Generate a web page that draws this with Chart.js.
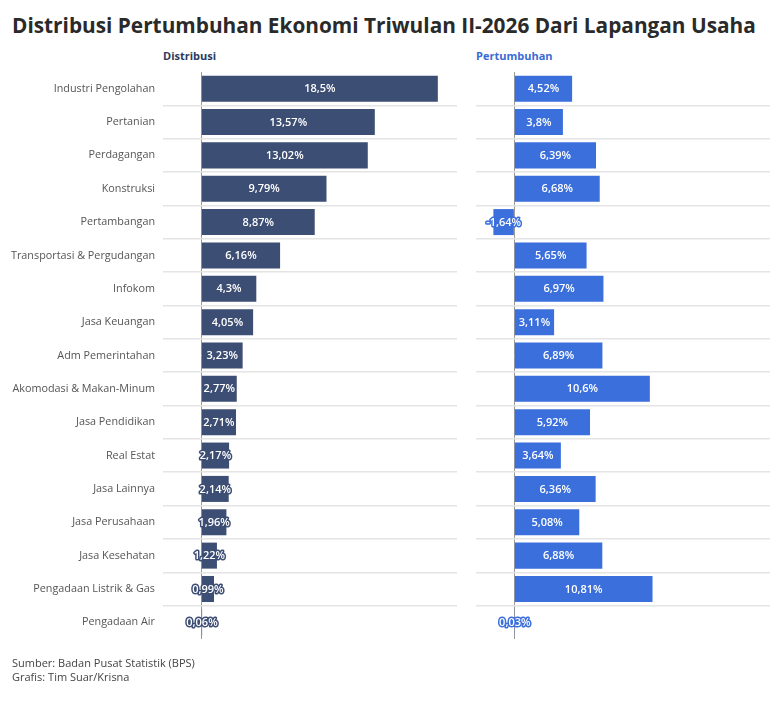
<!DOCTYPE html>
<html>
<head>
<meta charset="utf-8">
<script src="https://cdn.jsdelivr.net/npm/chart.js@4.4.1/dist/chart.umd.min.js"></script>
<style>
  html, body { margin:0; padding:0; background:#fff; }
  body { width:784px; height:711px; position:relative; overflow:hidden; font-family:"Open Sans", "Noto Sans", sans-serif; }
  #title { position:absolute; left:12px; top:11px; font-family:"Open Sans", sans-serif; font-weight:700; font-size:20.8px; color:#2a2a2a; white-space:nowrap; }
  .sub { position:absolute; top:48px; font-size:11px; font-weight:700; white-space:nowrap; }
  #subL { left:163px; color:#2c3a5e; }
  #subR { left:476px; color:#3a6ad4; }
  #foot { position:absolute; left:12px; top:656px; font-size:11px; line-height:14px; color:#444; }
  #cL { position:absolute; left:0; top:0; }
  #cR { position:absolute; left:460px; top:0; }
</style>
</head>
<body>
<div id="title">Distribusi Pertumbuhan Ekonomi Triwulan II-2026 Dari Lapangan Usaha</div>
<div class="sub" id="subL">Distribusi</div>
<div class="sub" id="subR">Pertumbuhan</div>
<canvas id="cL" width="460" height="711"></canvas>
<canvas id="cR" width="324" height="711"></canvas>
<div id="foot">Sumber: Badan Pusat Statistik (BPS)<br>Grafis: Tim Suar/Krisna</div>
<script>
const categories = ["Industri Pengolahan","Pertanian","Perdagangan","Konstruksi","Pertambangan","Transportasi & Pergudangan","Infokom","Jasa Keuangan","Adm Pemerintahan","Akomodasi & Makan-Minum","Jasa Pendidikan","Real Estat","Jasa Lainnya","Jasa Perusahaan","Jasa Kesehatan","Pengadaan Listrik & Gas","Pengadaan Air"];
const distribusi = [18.5,13.57,13.02,9.79,8.87,6.16,4.3,4.05,3.23,2.77,2.71,2.17,2.14,1.96,1.22,0.99,0.06];
const pertumbuhan = [4.52,3.8,6.39,6.68,-1.64,5.65,6.97,3.11,6.89,10.6,5.92,3.64,6.36,5.08,6.88,10.81,0.03];

const COLOR_L = '#3d4e74';
const COLOR_R = '#3b6fdc';

function fmt(v){ return String(v).replace('.', ',') + '%'; }

const valueLabels = {
  id:'valueLabels',
  afterDatasetsDraw(chart, args, opts){
    const ctx = chart.ctx;
    const meta = chart.getDatasetMeta(0);
    const ds = chart.data.datasets[0];
    ctx.save();
    ctx.font = '600 11px "Open Sans", sans-serif';
    ctx.textAlign = 'center';
    ctx.textBaseline = 'middle';
    ctx.lineJoin = 'round';
    meta.data.forEach((bar, i) => {
      const cx = (bar.x + bar.base) / 2;
      const t = fmt(ds.data[i]);
      ctx.lineWidth = 3;
      ctx.strokeStyle = opts.stroke;
      ctx.strokeText(t, cx, bar.y + 0.5);
      ctx.fillStyle = '#ffffff';
      ctx.fillText(t, cx, bar.y + 0.5);
    });
    ctx.restore();
  }
};

function makeChart(id, data, color, showLabels, padding){
  return new Chart(document.getElementById(id), {
    type:'bar',
    data:{ labels:categories, datasets:[{ data:data, backgroundColor:color, borderWidth:0, barPercentage:0.78, categoryPercentage:1 }] },
    options:{
      indexAxis:'y',
      responsive:false,
      animation:false,
      layout:{ padding:padding },
      plugins:{ legend:{display:false}, tooltip:{enabled:false}, valueLabels:{stroke:color} },
      scales:{
        x:{
          type:'linear', min:-3, max:20,
          ticks:{ display:false, stepSize:1 },
          border:{ display:false },
          grid:{ drawTicks:false, lineWidth:1, color:(c)=> (c.tick && c.tick.value === 0) ? '#9a9a9a' : 'rgba(0,0,0,0)' },
          afterFit:(s)=>{ s.height = 0; }
        },
        y:{
          ticks:{ display:showLabels, padding:8, color:'#555', font:{ family:'"Open Sans", sans-serif', size:10.8 } },
          border:{ display:false },
          grid:{ offset:true, drawTicks:false, lineWidth:1.5, color:(c)=> (c.index === undefined || c.index === 0) ? 'rgba(0,0,0,0)' : '#e4e4e4' },
          afterFit:(s)=>{ s.width = showLabels ? 163 : 0; }
        }
      }
    },
    plugins:[valueLabels]
  });
}

makeChart('cL', distribusi, COLOR_L, true, {top:72, bottom:72, left:0, right:3});
makeChart('cR', pertumbuhan, COLOR_R, false, {top:72, bottom:72, left:16, right:14});
</script>
</body>
</html>
